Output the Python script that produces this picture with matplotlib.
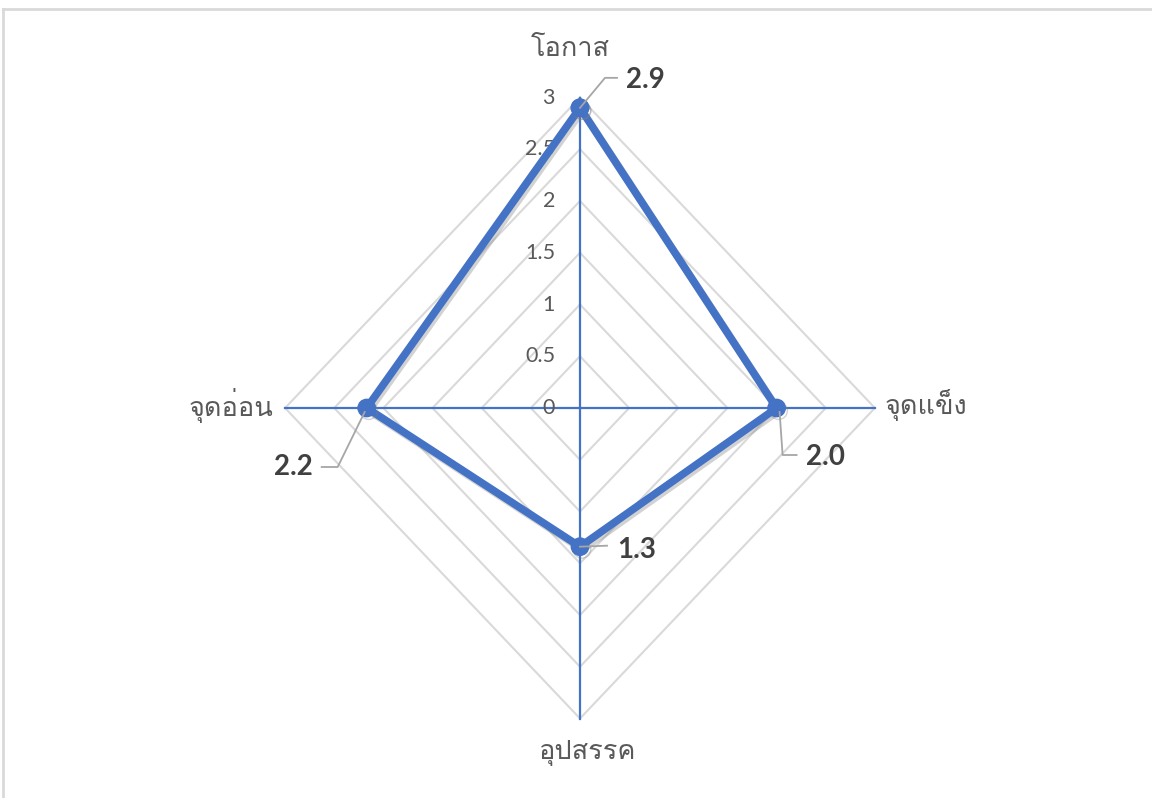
import matplotlib
matplotlib.use('Agg')
import matplotlib.pyplot as plt
import matplotlib.patheffects as pe
import numpy as np

## data
categories = ['โอกาส', 'จุดแข็ง', 'อุปสรรค', 'จุดอ่อน']
values = [2.9, 2.0, 1.34, 2.17]
r_ticks = [0, 0.5, 1, 1.5, 2, 2.5, 3]
tick_labels = ['0', '0.5', '1', '1.5', '2', '2.5', '3']
r_max = 3

thai_font = ['Loma', 'IBM Plex Sans Thai Looped', 'DejaVu Sans']
num_font = ['Lato', 'DejaVu Sans']
c_blue = '#4472C4'
c_grid = '#D9D9D9'
c_text = '#595959'

## pixel scale of the reference (horizontal and vertical differ slightly)
px_x = 98.3
px_y = 103.5
cx, cy = 580, 408
W, H = 1152, 798

fig = plt.figure(figsize=(W/100, H/100), dpi=100)
ax = fig.add_axes([0, 0, 1, 1])
ax.set_xlim(-cx/px_x, (W-cx)/px_x)
ax.set_ylim(-(H-cy)/px_y, cy/px_y)
ax.axis('off')

angles = np.deg2rad(90 - 90*np.arange(len(categories)))
ca, sa = np.cos(angles), np.sin(angles)

## grid polygons
for r in r_ticks[1:]:
    xs = list(r*ca) + [r*ca[0]]
    ys = list(r*sa) + [r*sa[0]]
    ax.plot(xs, ys, color=c_grid, lw=1.5, zorder=1)

## spokes
for i in range(len(categories)):
    ax.plot([0, r_max*ca[i]], [0, r_max*sa[i]], color=c_blue, lw=1.6, zorder=2)

## radial tick labels
for r, t in zip(r_ticks, tick_labels):
    ax.annotate(t, (0, r), xytext=(-25, 0), textcoords='offset pixels',
                ha='right', va='center', fontsize=15.5, color=c_text, family=num_font, zorder=3)

## series
v = np.array(values)
xs = list(v*ca) + [v[0]*ca[0]]
ys = list(v*sa) + [v[0]*sa[0]]
ax.plot(xs, ys, color=c_blue, lw=5.5, marker='o', ms=12.5, solid_joinstyle='round', zorder=5,
        path_effects=[pe.SimpleLineShadow(offset=(1.5, -2), shadow_color='gray', alpha=0.35), pe.Normal()])

## category labels
cat_off = [(-10, 49, 'center'), (10, 3, 'left'), (8, -34, 'center'), (-12, 3, 'right')]
for i, lab in enumerate(categories):
    dx, dy, ha = cat_off[i]
    ax.annotate(lab, (r_max*ca[i], r_max*sa[i]), xytext=(dx, dy), textcoords='offset pixels',
                ha=ha, va='center', fontsize=19.5, color=c_text, family=thai_font)

## data labels with leader lines (pixel offsets from the point)
leaders = [
    ([(0, 0), (25, 30), (37, 30)], (46, 28), 'left'),
    ([(3, -4), (6, -47), (20, -47)], (29, -49), 'left'),
    ([(0, 0), (27, 1)], (37, -3), 'left'),
    ([(-2, -4), (-29, -59), (-45, -59)], (-54, -59), 'right'),
]
for i, val in enumerate(values):
    px, py = val*ca[i], val*sa[i]
    pts, toff, ha = leaders[i]
    lx = [px + p[0]/px_x for p in pts]
    ly = [py + p[1]/px_y for p in pts]
    ax.plot(lx, ly, color='#A6A6A6', lw=1.3, zorder=6)
    ax.annotate('%.1f' % val, (px, py), xytext=toff, textcoords='offset pixels',
                ha=ha, va='center', fontsize=20, fontweight='bold', color='#404040', family=num_font, zorder=7)

## chart border (only top and left visible)
fig.add_artist(plt.Line2D([3/W, 1], [1-9/H, 1-9/H], color=c_grid, lw=2))
fig.add_artist(plt.Line2D([3/W, 3/W], [0, 1-9/H], color=c_grid, lw=2))

fig.savefig('out.png', dpi=100)
